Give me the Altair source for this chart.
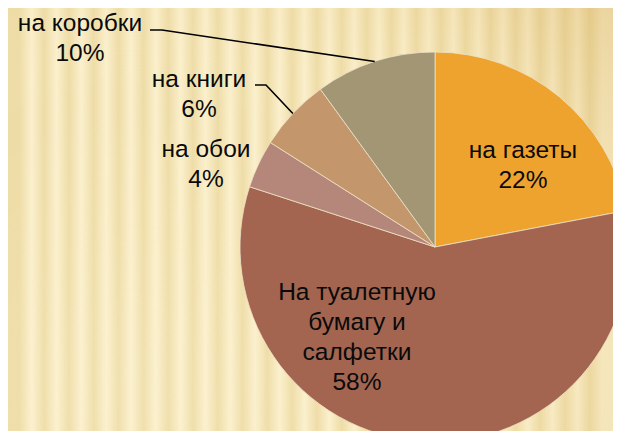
import math
import altair as alt
import pandas as pd

# ---- data ----
categories = ["на газеты", "На туалетную бумагу и салфетки", "на обои", "на книги", "на коробки"]
percents = [22, 58, 4, 6, 10]
label_names = [["на газеты"], ["На туалетную", "бумагу и", "салфетки"], ["на обои"], ["на книги"], ["на коробки"]]
colors = ["#EEA32F", "#A36550", "#B5877A", "#C4966C", "#A29675"]

# ---- layout (pixels inside the chart) ----
W, H = 605, 423
CX, CY, R = 427, 239, 195
# label anchor: (center x, first baseline y)
label_pos = [(515, 150), (349, 292), (198, 149), (191, 79), (72, 23)]
LINE_H = 30
# leader line elbow / end for outside labels (None = no leader)
leader_pts = [None, None, None, [(258, 77), (247, 77)], [(154, 22), (142, 22)]]

pie_df = pd.DataFrame({"cat": categories, "pct": percents, "idx": list(range(len(categories)))})

# text rows (one per line)
rows = []
for i, (names, p) in enumerate(zip(label_names, percents)):
    lines = names + [f"{p}%"]
    x0, y0 = label_pos[i]
    for j, t in enumerate(lines):
        rows.append({"cat": categories[i], "t": t, "x": x0, "y": y0 + j * LINE_H})
text_df = pd.DataFrame(rows)

# leader lines start at slice mid-angle on the rim
lrows = []
cum = 0.0
total = sum(percents)
for i, p in enumerate(percents):
    mid = (cum + p / 2) / total * 2 * math.pi
    cum += p
    if leader_pts[i] is None:
        continue
    sx = CX + R * math.sin(mid)
    sy = CY - R * math.cos(mid)
    pts = [(sx, sy)] + leader_pts[i]
    for k, (x, y) in enumerate(pts):
        lrows.append({"cat": categories[i], "k": k, "x": x, "y": y})
lead_df = pd.DataFrame(lrows)

# background stripes
P = 24.8
stops = []
light, dark = "#FBF0CD", "#EEDCA6"
x = -1.0
while x < W + P:
    for dx, c in ((0, light), (P / 2, dark)):
        off = (x + dx) / W
        if 0 <= off <= 1:
            stops.append(alt.GradientStop(color=c, offset=off))
    x += P
stops = sorted(stops, key=lambda s: s.offset)
stripe_grad = alt.LinearGradient(gradient="linear", stops=stops, x1=0, x2=1, y1=0, y2=0)
vignette = alt.RadialGradient(
    gradient="radial",
    stops=[alt.GradientStop(color="rgba(255,250,225,0.15)", offset=0),
           alt.GradientStop(color="rgba(255,245,210,0)", offset=0.45),
           alt.GradientStop(color="rgba(205,160,70,0.35)", offset=1)],
    x1=0.2, y1=0.75, r1=0, x2=0.2, y2=0.75, r2=1.0,
)

base_bg = alt.Chart(pd.DataFrame({"a": [0]}))
stripes = base_bg.mark_rect(color=stripe_grad).encode(
    x=alt.value(0), x2=alt.value(W), y=alt.value(0), y2=alt.value(H))
vig = base_bg.mark_rect(color=vignette).encode(
    x=alt.value(0), x2=alt.value(W), y=alt.value(0), y2=alt.value(H))

pie = alt.Chart(pie_df).mark_arc(outerRadius=R, stroke="#EFE2C8", strokeWidth=0.8).encode(
    theta=alt.Theta("pct:Q", stack=True),
    color=alt.Color("cat:N", scale=alt.Scale(domain=categories, range=colors), legend=None),
    order=alt.Order("idx:Q"),
    x=alt.value(CX), y=alt.value(CY),
)

leaders = alt.Chart(lead_df).mark_line(color="#000000", strokeWidth=1.6).encode(
    x=alt.X("x:Q", scale=None, axis=None),
    y=alt.Y("y:Q", scale=None, axis=None),
    detail="cat:N",
    order="k:Q",
)

labels = alt.Chart(text_df).mark_text(
    font="Liberation Sans", fontSize=24.5, color="#0A0A0A", align="center", baseline="alphabetic"
).encode(
    x=alt.X("x:Q", scale=None, axis=None),
    y=alt.Y("y:Q", scale=None, axis=None),
    text="t:N",
)

chart = alt.layer(stripes, vig, pie, leaders, labels).properties(
    width=W, height=H,
    autosize=alt.AutoSizeParams(type="none"),
    padding=0,
    background="#F7EBC3",
).configure_view(stroke=None)

chart.save("out.html", embed_options={"renderer": "svg", "actions": False})
